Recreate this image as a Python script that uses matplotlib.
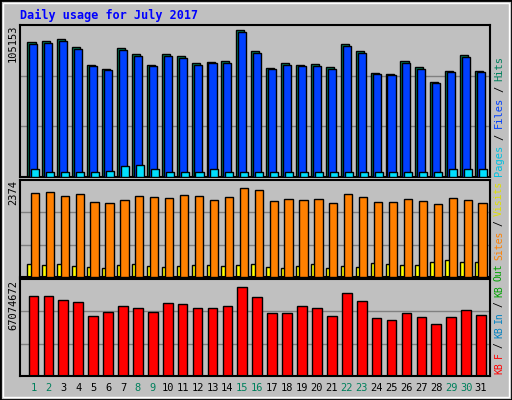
import matplotlib.pyplot as plt
from matplotlib.patches import Rectangle
import numpy as np

days = list(range(1, 32))
weekend = [1, 2, 8, 9, 15, 16, 22, 23, 29, 30]

hits_max = 105153
sites_max = 2374
kbf_max = 67074672

hits_f = [0.894, 0.901, 0.914, 0.861, 0.742, 0.715, 0.854, 0.815, 0.742, 0.815, 0.801, 0.755,
          0.762, 0.768, 0.974, 0.834, 0.722, 0.755, 0.742, 0.748, 0.728, 0.881, 0.834, 0.689,
          0.682, 0.768, 0.728, 0.629, 0.702, 0.808, 0.702]
hits = [round(f * hits_max) for f in hits_f]
files = [round(h * 0.985) for h in hits]
pages_f = [0.05, 0.03, 0.03, 0.03, 0.03, 0.04, 0.07, 0.08, 0.05, 0.03, 0.03, 0.03,
           0.05, 0.03, 0.03, 0.03, 0.03, 0.03, 0.03, 0.03, 0.03, 0.03, 0.03, 0.03,
           0.03, 0.03, 0.03, 0.03, 0.05, 0.05, 0.05]
pages = [round(f * hits_max) for f in pages_f]

sites_f = [0.905, 0.915, 0.874, 0.895, 0.811, 0.800, 0.832, 0.874, 0.863, 0.853, 0.884, 0.874,
           0.832, 0.863, 0.968, 0.947, 0.821, 0.842, 0.832, 0.842, 0.800, 0.895, 0.863, 0.811,
           0.811, 0.842, 0.821, 0.789, 0.853, 0.832, 0.800]
sites = [round(f * sites_max) for f in sites_f]
visits_f = [0.14, 0.13, 0.14, 0.12, 0.11, 0.10, 0.13, 0.14, 0.12, 0.11, 0.12, 0.13,
            0.13, 0.12, 0.13, 0.14, 0.11, 0.10, 0.12, 0.14, 0.10, 0.12, 0.11, 0.15,
            0.14, 0.13, 0.13, 0.16, 0.18, 0.16, 0.16]
visits = [round(f * sites_max) for f in visits_f]

kbf_f = [0.863, 0.863, 0.821, 0.800, 0.653, 0.695, 0.758, 0.737, 0.695, 0.790, 0.779, 0.737,
         0.737, 0.758, 0.958, 0.853, 0.684, 0.684, 0.758, 0.737, 0.653, 0.895, 0.811, 0.632,
         0.611, 0.684, 0.642, 0.558, 0.642, 0.716, 0.663]
kbf = [round(f * kbf_max) for f in kbf_f]

GRAY = '#c0c0c0'
W, H = 512, 400
fig = plt.figure(figsize=(5.12, 4.0), dpi=100, facecolor=GRAY)
fig.patches.append(Rectangle((0, 0), 1, 1, transform=fig.transFigure, fill=False,
                             edgecolor='black', linewidth=2))
fig.patches.append(Rectangle((3 / W, 3 / H), 1 - 6 / W, 1 - 6 / H, transform=fig.transFigure,
                             fill=False, edgecolor='white', linewidth=1))

def px_axes(top, bottom, left=20, right=490):
    return fig.add_axes([left / W, 1 - bottom / H, (right - left) / W, (bottom - top) / H])

mono = 'DejaVu Sans Mono'
x = np.array(days)

def style(ax, vmax):
    ax.set_facecolor(GRAY)
    ax.set_xlim(0.1, 31.6)
    ax.set_ylim(0, vmax)
    ax.set_xticks([])
    ax.set_yticks([])
    for s in ax.spines.values():
        s.set_linewidth(1.5)
    for fr in (1 / 3, 2 / 3):
        ax.axhline(vmax * fr, color='#808080', linewidth=1, zorder=0)

ax1 = px_axes(25, 177)
style(ax1, hits_max * 1.005)
ax1.bar(x - 0.13, hits, width=0.54, color='#00805c', edgecolor='black', linewidth=1, zorder=2)
ax1.bar(x, files, width=0.54, color='#0040ff', edgecolor='black', linewidth=1, zorder=3)
ax1.bar(x + 0.13, pages, width=0.54, color='#00e0ff', edgecolor='black', linewidth=1, zorder=4)

ax2 = px_axes(180, 277)
style(ax2, sites_max * 1.05)
ax2.bar(x - 0.2, visits, width=0.4, color='#ffff00', edgecolor='black', linewidth=1, zorder=2)
ax2.bar(x + 0.1, sites, width=0.55, color='#ff8000', edgecolor='black', linewidth=1, zorder=3)

ax3 = px_axes(279, 376)
style(ax3, kbf_max * 1.05)
ax3.bar(x, kbf, width=0.65, color='#ff0000', edgecolor='black', linewidth=1, zorder=2)

fig.text(20 / W, 1 - 15 / H, 'Daily usage for July 2017', color='#0000ff', family=mono,
         fontweight='bold', fontsize=8.5, va='center', ha='left')

for txt, ytop in [(str(hits_max), 25), (str(sites_max), 180), (str(kbf_max), 280)]:
    fig.text(13 / W, 1 - ytop / H, txt, rotation=90, family=mono, fontsize=7.5,
             va='top', ha='center')

for d in days:
    xp = 20 + (d - 0.1) * 470 / 31.5
    fig.text(xp / W, 1 - 388 / H, str(d), family=mono, fontsize=7.5, ha='center', va='center',
             color='#00805c' if d in weekend else 'black')

renderer = fig.canvas.get_renderer()

def right_label(segs, ybottom, size, gap):
    # segments stacked bottom-to-top, measured so they never overlap
    y = ybottom
    for txt, col in segs:
        t = fig.text(499 / W, 1 - y / H, txt, rotation=90, family=mono, fontsize=size,
                     color=col, ha='center', va='bottom')
        ext = t.get_window_extent(renderer=renderer)
        y -= ext.height + gap

right_label([('Pages', '#00c0e0'), ('/', 'black'), ('Files', '#0040ff'), ('/', 'black'),
             ('Hits', '#00805c')], 176, 7.5, 5)
right_label([('KB', '#ff0000'), ('F', '#ff0000'), ('/', 'black'), ('KB', '#0080c0'),
             ('In', '#0080c0'), ('/', 'black'), ('KB', '#00a000'), ('Out', '#00a000'),
             ('Sites', '#ff8000'), ('/', 'black'), ('Visits', '#e0e000')], 374, 7, 4)

fig.savefig('out.png', dpi=100, facecolor=GRAY)
